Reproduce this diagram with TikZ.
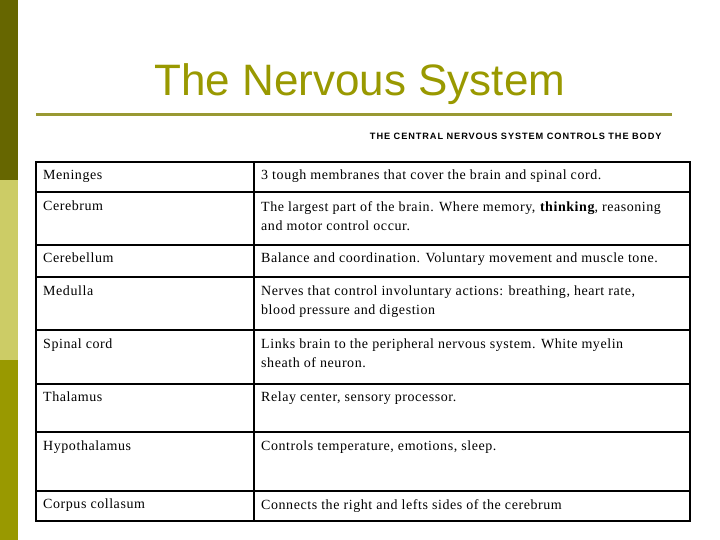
\documentclass[tikz,border=0pt]{standalone}
\usepackage{fontspec}
\setmainfont{Liberation Serif}[LetterSpace=4]
\newfontfamily\arialf{Liberation Sans}
\newfontfamily\arialsp{Liberation Sans}[LetterSpace=10]
\definecolor{darkol}{HTML}{666600}
\definecolor{lightol}{HTML}{CCCC66}
\definecolor{midol}{HTML}{999900}
\definecolor{lineol}{HTML}{999933}
\definecolor{titlec}{HTML}{999900}
\begin{document}
\begin{tikzpicture}[x=1pt,y=-1pt,
  cell/.style={anchor=north west,inner sep=0pt,align=left,font=\fontsize{14}{19}\selectfont},
  grid/.style={draw=black,line width=1.6pt}]
\useasboundingbox (0,0) rectangle (720,540);
\fill[white] (0,0) rectangle (720,540);
\fill[darkol] (0,0) rectangle (18,180);
\fill[lightol] (0,180) rectangle (18,360);
\fill[midol] (0,360) rectangle (18,540);
\node[font=\arialf\fontsize{44}{46}\selectfont,text=titlec] (title) at (360,84) {The Nervous System};
\draw[lineol,line width=3pt] (36,115) -- (672,115);
\node[font=\arialsp\bfseries\fontsize{9.2}{10}\selectfont,anchor=east] (sub) at (665,136) {THE CENTRAL NERVOUS SYSTEM CONTROLS THE BODY};
\draw[grid] (36,162) rectangle (690,521);
\draw[grid] (254,162) -- (254,521);
\foreach \y in {192,245,277,330,384,432,491} \draw[grid] (36,\y) -- (690,\y);
\foreach \n/\y/\a/\b in {
 r1/170/Meninges/{3 tough membranes that cover the brain and spinal cord.},
 r2/201/Cerebrum/{The largest part of the brain. Where memory, \textbf{thinking}, reasoning\\and motor control occur.},
 r3/253/Cerebellum/{Balance and coordination. Voluntary movement and muscle tone.},
 r4/286/Medulla/{Nerves that control involuntary actions: breathing, heart rate,\\blood pressure and digestion},
 r5/339/Spinal cord/{Links brain to the peripheral nervous system. White myelin\\sheath of neuron.},
 r6/392/Thalamus/{Relay center, sensory processor.},
 r7/441/Hypothalamus/{Controls temperature, emotions, sleep.},
 r8/499/Corpus collasum/{Connects the right and lefts sides of the cerebrum}}
{
 \node[cell] (\n a) at (43,\y) {\a};
 \node[cell] (\n b) at (261,\y) {\b};
}
\end{tikzpicture}
\end{document}
